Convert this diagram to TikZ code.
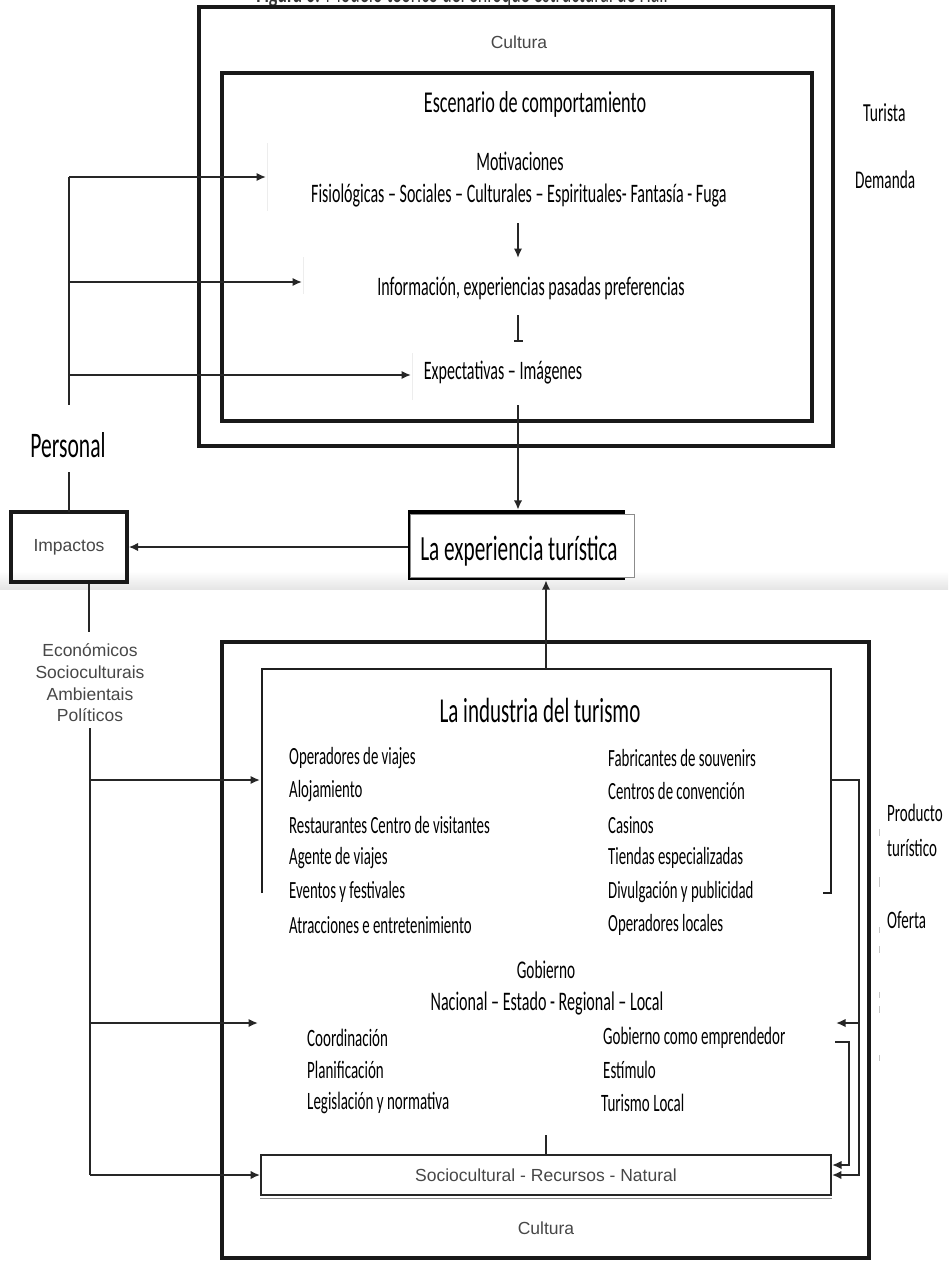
\documentclass[tikz,border=0pt]{standalone}
\usepackage{graphicx}
\usepackage{fontspec}
\setmainfont{Carlito}
\newfontfamily\arialf{Liberation Sans}
\usetikzlibrary{arrows.meta}
% condensed Carlito text: size, then text
\newcommand\cb[2]{\scalebox{0.6}[1]{\fontsize{#1}{#1}\selectfont #2}}

\begin{document}
\begin{tikzpicture}[x=1pt,y=-1pt,
  frame/.style={draw=black!90, line width=3.3pt, inner sep=0pt, outer sep=0pt},
  conn/.style={draw=black!85, line width=2.1pt},
  tip/.style={-{Latex[length=9.5pt,width=8.5pt]}},
  lbl/.style={inner sep=0pt, text=black},
  grey/.style={inner sep=0pt, text=black!72, font=\arialf\fontsize{17.5}{21.7}\selectfont},
  ghost/.style={draw=black!7, line width=0.8pt},
]
\useasboundingbox (0,0) rectangle (948,1261);
\clip (0,0) rectangle (948,1261);

% page seam band
\shade[top color=white, bottom color=black!10] (0,571) rectangle (948,589);

% caption, cut by the top edge
\node[lbl, anchor=base, text=black!80] (caption) at (462,2.5) {\cb{30}{\textbf{Figura 6:} Modelo teórico del enfoque estructural de Hall}};

% ---------- demand side ----------
\node[frame, minimum width=634pt, minimum height=439pt] (outerT) at (516,226.5) {};
\node[frame, minimum width=590pt, minimum height=348pt] (innerT) at (517,247) {};
\node[grey] (culturaT) at (519,42) {Cultura};

\node[lbl] (escen) at (535,104) {\cb{30.3}{Escenario de comportamiento}};
\node[lbl] (motiv) at (520,161) {\cb{26.7}{Motivaciones}};
\node[lbl] (fisio) at (519,196) {\cb{26.7}{Fisiológicas – Sociales – Culturales – Espirituales- Fantasía - Fuga}};
\node[lbl] (info) at (531,288) {\cb{26.7}{Información, experiencias pasadas preferencias}};
\node[lbl] (expect) at (503,373) {\cb{26.7}{Expectativas – Imágenes}};

% faint edges of text frames
\coordinate (g1a) at (267,143); \coordinate (g1b) at (267,211);
\coordinate (g2a) at (303,257); \coordinate (g2b) at (303,294);
\coordinate (g3a) at (412,353); \coordinate (g3b) at (412,400);
\draw[ghost] (g1a) -- (g1b);
\draw[ghost] (g2a) -- (g2b);
\draw[ghost] (g3a) -- (g3b);

\coordinate (dA) at (518,223); \coordinate (dB) at (518,258);
\draw[conn,tip] (dA) -- (dB);
\coordinate (bA) at (518,315); \coordinate (bB) at (518,342);
\draw[conn,-{Bar[width=9pt]}] (bA) -- (bB);

\node[lbl] (turista) [anchor=west] at (863,113) {\cb{26}{Turista}};
\node[lbl] (demanda) [anchor=west] at (855,180) {\cb{25.5}{Demanda}};

% personal factors
\coordinate (busPtop) at (69,177);
\coordinate (busPbot) at (69,405);
\coordinate (tipM) at (266,177);
\coordinate (tipI) at (302,282);
\coordinate (tipE) at (411,375);
\draw[conn] (busPtop) -- (busPbot);
\draw[conn,tip] (busPtop) -- (tipM);
\draw[conn,tip] (busPtop |- tipI) -- (tipI);
\draw[conn,tip] (busPtop |- tipE) -- (tipE);

\node[lbl] (personal) at (68,445) {\cb{36}{Personal}};
\node[frame, minimum width=116pt, minimum height=70pt, grey] (impactos) at (69,547) {Impactos};
\coordinate (persLow) at (69,472);
\draw[conn] (persLow) -- (persLow |- impactos.north);

% tourist experience
\node[fill=black, inner sep=0pt, minimum width=217pt, minimum height=70pt] (expshadow) at (516.5,545) {};
\node[draw=black!45, line width=0.8pt, fill=white, inner sep=0pt, minimum width=224pt, minimum height=63pt] (exper) at (522,545.5) {};
\node[lbl] (experLbl) at (519,551) {\cb{35.4}{La experiencia turística}};

\coordinate (expIn) at (518,405);
\draw[conn,tip] (expIn) -- (expIn |- expshadow.north);
\draw[conn,tip] (impactos.east -| expshadow.west) -- ([xshift=1.6pt]impactos.east);

% impacts
\coordinate (ecoA) at (89,584);
\coordinate (ecoB) at (89,632);
\draw[conn] (ecoA) -- (ecoB);
\node[grey, align=center] (eco) at (90,683) {Económicos\\Socioculturais\\Ambientais\\Políticos};

% ---------- supply side ----------
\node[frame, minimum width=647pt, minimum height=616pt] (outerB) at (545.5,950) {};
\coordinate (indBL) at (262,893);
\coordinate (indTL) at (262,669);
\coordinate (indTR) at (831,669);
\coordinate (indBR) at (831,893);
\coordinate (indHook) at (823,893);
\draw[draw=black!88, line width=2.5pt] (indBL) -- (indTL) -- (indTR) -- (indBR) -- (indHook);

\coordinate (indTop) at (546,669);
\draw[conn,tip] (indTop) -- (indTop |- expshadow.south);

\node[lbl] (indus) at (540,710) {\cb{35}{La industria del turismo}};

\foreach \t [count=\i] in {Operadores de viajes, Alojamiento, Restaurantes Centro de visitantes, Agente de viajes, Eventos y festivales, Atracciones e entretenimiento}{
  \pgfmathsetmacro\yy{758+33.4*(\i-1)}
  \node[lbl, anchor=west] (indL\i) at (289,\yy) {\cb{24.7}{\t}};
}
\foreach \t [count=\i] in {Fabricantes de souvenirs, Centros de convención, Casinos, Tiendas especializadas, Divulgación y publicidad, Operadores locales}{
  \pgfmathsetmacro\yy{758+33.4*(\i-1)}
  \node[lbl, anchor=west] (indR\i) at (608,\yy) {\cb{24.7}{\t}};
}

\node[lbl] (gob) at (546,970) {\cb{25.5}{Gobierno}};
\node[lbl] (niveles) at (547,1003) {\cb{26.8}{Nacional – Estado - Regional – Local}};
\node[lbl, anchor=west] (gobL1) at (307,1038) {\cb{25}{Coordinación}};
\node[lbl, anchor=west] (gobL2) at (307,1070) {\cb{25}{Planificación}};
\node[lbl, anchor=west] (gobL3) at (307,1103) {\cb{25}{Legislación y normativa}};
\node[lbl, anchor=west] (gobR1) at (603,1038) {\cb{25}{Gobierno como emprendedor}};
\node[lbl, anchor=west] (gobR2) at (603,1070) {\cb{25}{Estímulo}};
\node[lbl, anchor=west] (gobR3) at (601,1103) {\cb{25}{Turismo Local}};

\node[draw=black!85, line width=1.8pt, fill=white, minimum width=570pt, minimum height=40pt, grey] (socio) at (546,1175) {Sociocultural - Recursos - Natural};
\draw[black!45, line width=1.4pt] ([yshift=-2.3pt]socio.south west) -- ([yshift=-2.3pt]socio.south east);
\node[grey] (culturaB) at (546,1228) {Cultura};

\coordinate (tick) at (546,1135);
\draw[conn] (tick) -- (tick |- socio.north);

% left feed from the impacts
\coordinate (busBtop) at (90,728);
\coordinate (busBbot) at (90,1175);
\coordinate (tipInd) at (260,780);
\coordinate (tipGob) at (258,1023);
\draw[conn] (busBtop) -- (busBbot);
\draw[conn,tip] (busBtop |- tipInd) -- (tipInd);
\draw[conn,tip] (busBtop |- tipGob) -- (tipGob);
\draw[conn,tip] (busBbot) -- (socio.west);

% right feed from the industry
\coordinate (brA) at (831,780);
\coordinate (brB) at (859,780);
\coordinate (govR) at (836,1023);
\draw[conn,tip] (brA) -- (brB) -- (brB |- socio.east) -- (socio.east);
\draw[conn,tip] (brB |- govR) -- (govR);
\coordinate (hk) at (835,1042);
\coordinate (hk2) at (849,1042);
\coordinate (socioE2) at (832,1165);
\draw[conn,tip] (hk) -- (hk2) -- (hk2 |- socioE2) -- (socioE2);

% supply labels
\node[lbl, anchor=west] (producto) at (887,813) {\cb{25}{Producto}};
\node[lbl, anchor=west] (turistico) at (887,848) {\cb{25}{turístico}};
\node[lbl, anchor=west] (oferta) at (887,920) {\cb{25}{Oferta}};
\foreach \ya/\yb in {829/836, 877/887, 927/933, 946/953, 992/998, 1006/1013, 1055/1061}{
  \draw[black!22, line width=1pt] (879,\ya) -- (879,\yb);
}
\end{tikzpicture}
\end{document}
